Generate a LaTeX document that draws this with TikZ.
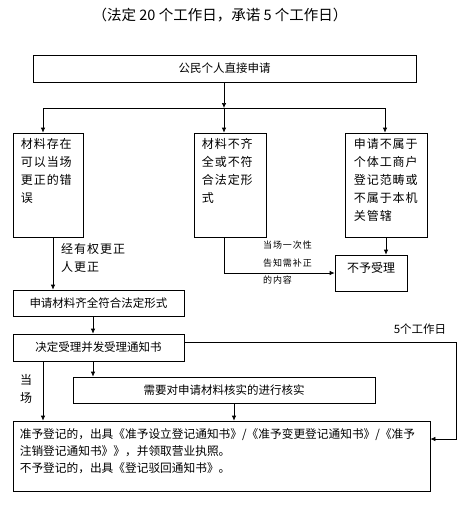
\documentclass[tikz,border=0pt]{standalone}
\usepackage{fontspec}
\setmainfont{Noto Sans CJK SC}
\usetikzlibrary{positioning, calc, arrows.meta}
\tikzset{
    box/.style={draw, line width=0.7pt, inner sep=0pt},
    box text/.style={anchor=north west, inner sep=0pt, align=left, font=\fontsize{12}{18}\selectfont\addfontfeature{LetterSpace=8}},
    line text/.style={inner sep=0pt, font=\fontsize{11.5}{17}\selectfont},
    note text/.style={anchor=north west, inner sep=0pt, align=left, font=\fontsize{9}{17.5}\selectfont\addfontfeature{LetterSpace=10}},
    flow/.style={-{Latex[length=5pt,width=4.5pt]}, line width=0.7pt},
    link/.style={line width=0.7pt},
}

\begin{document}
\begin{tikzpicture}[x=1pt, y=-1pt]
    \useasboundingbox (0,0) rectangle (466,512);
    % title
    \node[line text, font=\fontsize{14.5}{16}\selectfont] (title) at (220,15) {（法定 20 个工作日，承诺 5 个工作日）};
    % boxes
    \node[box, minimum width=383, minimum height=27] (apply) at (224.5,68.5) {};
    \node[line text] at (apply) {公民个人直接申请};
    \node[box, minimum width=70, minimum height=104] (fixable) at (48,185) {};
    \node[box text] at ([xshift=8,yshift=-6]fixable.north west) {材料存在\\可以当场\\更正的错\\误};
    \node[box, minimum width=72, minimum height=104] (lacking) at (230,185) {};
    \node[box text] at ([xshift=8,yshift=-6]lacking.north west) {材料不齐\\全或不符\\合法定形\\式};
    \node[box, minimum width=82, minimum height=104] (outside) at (386,185) {};
    \node[box text] at ([xshift=9,yshift=-6]outside.north west) {申请不属于\\个体工商户\\登记范畴或\\不属于本机\\关管辖};
    \node[box, minimum width=72, minimum height=36] (reject) at (371,273) {};
    \node[line text, font=\fontsize{12}{18}\selectfont] at ([yshift=5]reject) {不予受理};
    \node[box, minimum width=171, minimum height=26] (complete) at (98.5,303) {};
    \node[line text] at (complete) {申请材料齐全符合法定形式};
    \node[box, minimum width=171, minimum height=27] (accept) at (98.5,347.5) {};
    \node[line text] at (accept) {决定受理并发受理通知书};
    \node[box, minimum width=302, minimum height=26] (verify) at (224,390) {};
    \node[line text] at (verify) {需要对申请材料核实的进行核实};
    \node[box, minimum width=417, minimum height=70] (result) at (221.5,456) {};
    \node[box text, font=\fontsize{11.7}{17}\selectfont] at ([xshift=7,yshift=-8]result.north west)
        {准予登记的，出具《准予设立登记通知书》/《准予变更登记通知书》/《准予\\注销登记通知书》》，并领取营业执照。\\不予登记的，出具《登记驳回通知书》。};
    % labels
    \node[line text, anchor=north west, align=left, font=\fontsize{12}{18}\selectfont\addfontfeature{LetterSpace=8}] (bywho) at (61,243) {经有权更正\\人更正};
    \node[note text] (tellnote) at (263,241) {当场一次性\\告知需补正\\的内容};
    \node[line text] (days) at (420,329) {5个工作日};
    \node[line text, align=center, font=\fontsize{12}{18}\selectfont] (onsite) at (26,389) {当\\场};
    % connectors
    \coordinate (split) at (224,108);
    \coordinate (splitL) at (43,108);
    \coordinate (splitR) at (385,108);
    \coordinate (bend) at (456,439);
    \draw[flow] (apply.south -| split) -- (split);
    \draw[link] (splitL) -- (splitR);
    \draw[flow] (splitL) -- (splitL |- fixable.north);
    \draw[flow] (split) -- (split |- lacking.north);
    \draw[flow] (splitR) -- (splitR |- outside.north);
    \draw[flow] (outside.south) -- (outside.south |- reject.north);
    \draw[flow] ([xshift=-6]lacking.south) |- (reject.west);
    \draw[flow] ([xshift=5]fixable.south) -- ([xshift=5]fixable.south |- complete.north);
    \draw[flow] ([xshift=-5.5]complete.south) -- ([xshift=-5.5]accept.north);
    \draw[flow] ([xshift=-5.5]accept.south) -- ([xshift=-5.5]accept.south |- verify.north);
    \draw[flow] (accept.south -| splitL) -- (splitL |- result.north);
    \draw[flow] ([xshift=10]verify.south) -- ([xshift=10]verify.south |- result.north);
    \draw[flow] ([yshift=5.5]accept.east) -| (bend) -- (bend -| result.east);
\end{tikzpicture}
\end{document}
